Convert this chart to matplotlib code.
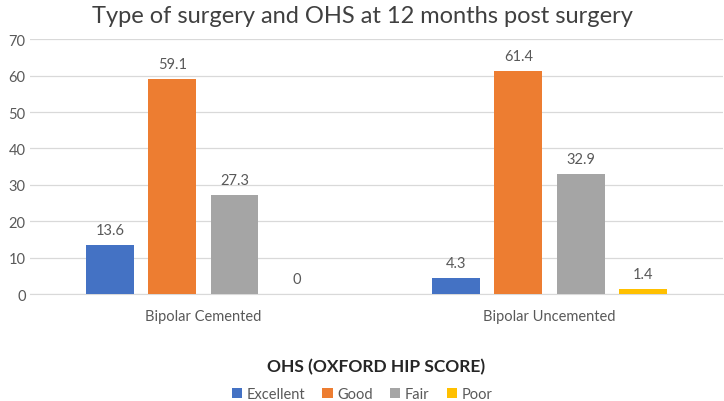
import numpy as np
import matplotlib.pyplot as plt

plt.rcParams['font.family'] = ['Lato', 'DejaVu Sans']

groups = ['Bipolar Cemented', 'Bipolar Uncemented']
series = ['Excellent', 'Good', 'Fair', 'Poor']
excellent = [13.6, 4.3]
good = [59.1, 61.4]
fair = [27.3, 32.9]
poor = [0, 1.4]
colors = ['#4472C4', '#ED7D31', '#A5A5A5', '#FFC000']

values = [excellent, good, fair, poor]

fig = plt.figure(figsize=(7.24, 4.02), dpi=100)
ax = fig.add_axes([0.042, 0.266, 0.956, 0.634])

x = np.arange(len(groups))
step = 0.18
width = 0.138
for i, (name, vals) in enumerate(zip(series, values)):
    pos = x + (i - 1.5) * step
    bars = ax.bar(pos, vals, width, color=colors[i], label=name, zorder=3)
    for b, v in zip(bars, vals):
        ax.text(b.get_x() + b.get_width() / 2, v + 2.2, f'{v:g}',
                ha='center', va='bottom', fontsize=10.5, color='#595959')

ax.set_xlim(-0.5, 1.5)
ax.set_ylim(0, 70)
ax.set_yticks(range(0, 71, 10))
ax.yaxis.grid(True, color='#D9D9D9', linewidth=0.9, zorder=0)
for s in ['top', 'right', 'left']:
    ax.spines[s].set_visible(False)
ax.spines['bottom'].set_color('#D9D9D9')
ax.tick_params(axis='both', length=0, labelsize=10.5, labelcolor='#595959')
ax.tick_params(axis='x', pad=11)
ax.set_xticks(x)
ax.set_xticklabels(groups)

ax.set_xlabel('OHS (OXFORD HIP SCORE)', fontsize=12.5, fontweight='bold',
              color='#262626', labelpad=25)
fig.text(0.5, 0.958, 'Type of surgery and OHS at 12 months post surgery',
         ha='center', va='center', fontsize=17, color='#404040')

fig.legend(loc='lower center', ncol=4, frameon=False, fontsize=10.5,
           handlelength=0.7, handleheight=0.7, handletextpad=0.3,
           columnspacing=1.2, bbox_to_anchor=(0.5, -0.032),
           labelcolor='#595959')

fig.savefig('out.png', dpi=100)
